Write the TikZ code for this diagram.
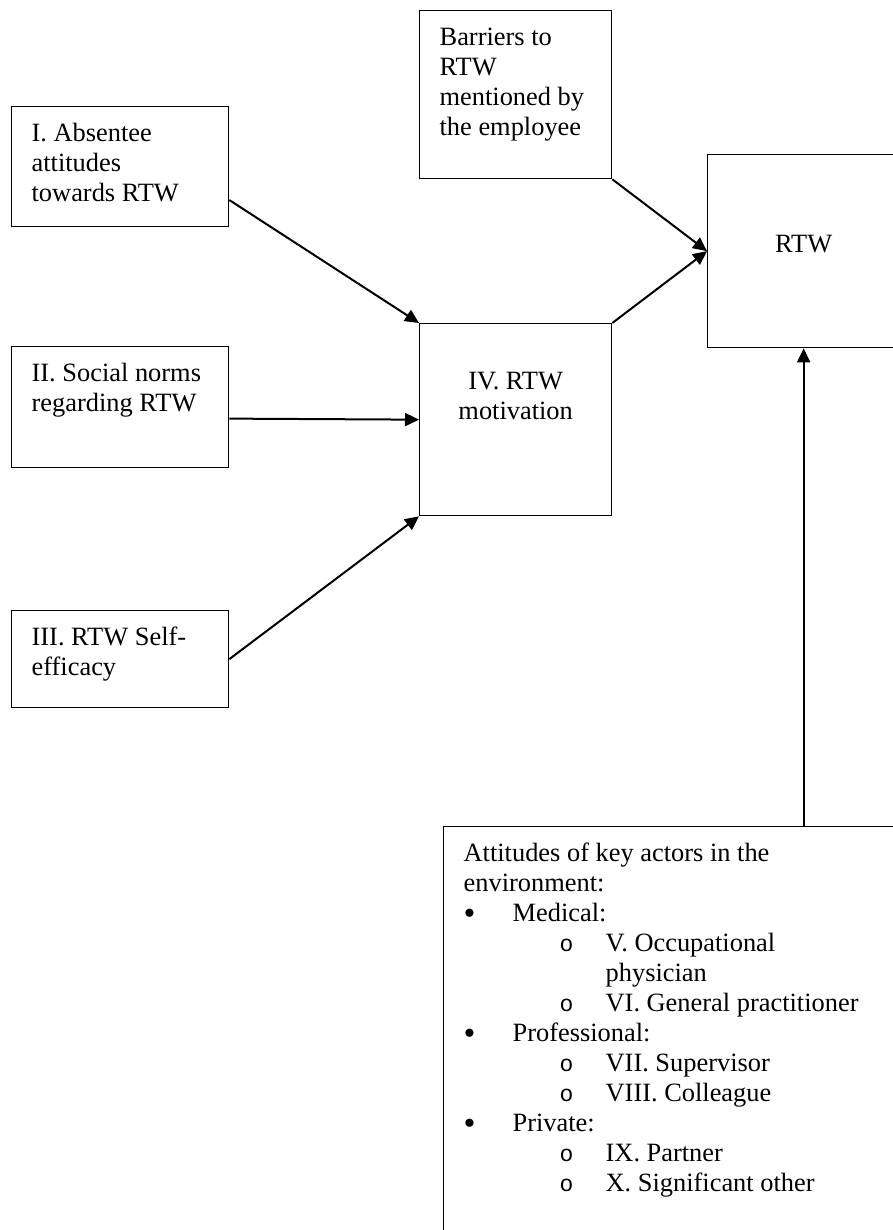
\documentclass[tikz,border=0pt]{standalone}
\usepackage{fontspec}
\setmainfont{Liberation Serif}
\newfontfamily\circfont{Liberation Mono}
\usetikzlibrary{arrows.meta}

\newcommand{\topbox}[3]{\parbox[c][#2][t]{#1}{\raggedright\rule{0pt}{17.5pt}#3}}
\newcommand{\midbox}[4]{\parbox[c][#2][t]{#1}{\centering\rule{0pt}{#3}#4}}
\newcommand{\actgroup}[1]{\makebox[24.5pt][l]{\raisebox{-1.2pt}{\fontsize{17}{15}\selectfont\textbullet}}#1}
\newcommand{\actor}[1]{\hspace*{48pt}\makebox[23pt][l]{\fontsize{11.5}{15}\circfont o}#1}

\begin{document}
\begin{tikzpicture}
		[
			x=0.5pt, y=-0.5pt,
			box/.style={draw, line width=0.65pt, anchor=north west, inner xsep=10pt, inner ysep=0pt,
				font=\fontsize{13.2}{15}\selectfont},
			link/.style={line width=1pt, -{Triangle[length=7pt, width=6.5pt]}},
		]

		\clip (0,0) rectangle (893,1230);

		% Nodes
		\foreach \name/\y/\h/\text in
		{
			abs/106/60/{I. Absentee\\attitudes\\towards RTW},
			norms/346/60.5/{II. Social norms\\regarding RTW},
			eff/610/48.5/{III. RTW Self-\\efficacy}
		}
			\node[box] (\name) at (11,\y) {\topbox{88.5pt}{\h pt}{\text}};

		\node[box] (mot) at (419,323) {\midbox{76pt}{96pt}{33pt}{IV. RTW\\motivation}};
		\node[box] (bar) at (419,10) {\topbox{76pt}{84pt}{Barriers to\\RTW\\mentioned by\\the employee}};
		\node[box] (rtw) at (707,154) {\midbox{76pt}{96.5pt}{49pt}{RTW}};
		\node[box] (att) at (443,826) {\topbox{340pt}{220pt}{%
			Attitudes of key actors in the\\
			environment:\\
			\actgroup{Medical:}\\
			\actor{V. Occupational}\\
			\hspace*{71pt}physician\\
			\actor{VI. General practitioner}\\
			\actgroup{Professional:}\\
			\actor{VII. Supervisor}\\
			\actor{VIII. Colleague}\\
			\actgroup{Private:}\\
			\actor{IX. Partner}\\
			\actor{X. Significant other}}};

		% Influences
		\foreach \u/\v in
		{
			abs.-17.4/mot.north west,
			norms.-6.6/mot.west,
			eff.east/mot.south west,
			mot.north east/rtw.west,
			bar.south east/rtw.west,
			att.north/rtw.south%
		}
			\draw[link] (\u) -- (\v);

\end{tikzpicture}
\end{document}
